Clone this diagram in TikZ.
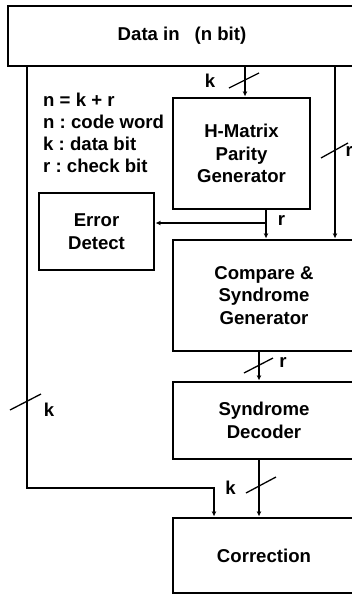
\documentclass[tikz,border=0pt]{standalone}
\usepackage{fontspec}
\setmainfont{Liberation Sans}
\usetikzlibrary{arrows.meta}
\frenchspacing
\begin{document}
\begin{tikzpicture}[x=1pt,y=-1pt,
  txt/.style={font=\bfseries\fontsize{18.6}{22.5}\selectfont},
  box/.style={draw,line width=2.2pt,align=center,txt,inner sep=0pt},
  conn/.style={line width=1.3pt},
  arr/.style={conn,-{Stealth[length=5pt,width=4.5pt]},shorten >=0.8pt},
  lbl/.style={txt,inner sep=0pt},
  bus/.style={line width=1.3pt}]
\useasboundingbox (0,0) rectangle (352,595);
\clip (0,0) rectangle (352,595);
% boxes
\node[box,minimum width=348pt,minimum height=60pt] (din) at (182,36) {Data in\hspace{0.8em}(n bit)};
\node[box,minimum width=137pt,minimum height=111pt] (hm) at (241.5,153.5) {H-Matrix\\Parity\\Generator};
\node[box,minimum width=115pt,minimum height=77pt] (ed) at (96.5,231.5) {Error\\Detect};
\node[box,minimum width=182pt,minimum height=111pt] (comp) at (264,295.5) {Compare \&\\Syndrome\\Generator};
\node[box,minimum width=182pt,minimum height=77pt] (sd) at (264,420.5) {Syndrome\\Decoder};
\node[box,minimum width=182pt,minimum height=75pt] (corr) at (264,555.5) {Correction};
% legend
\node[lbl,anchor=base west] (l1) at (43,106) {n = k + r};
\node[lbl,anchor=base west] (l2) at (43,128) {n : code word};
\node[lbl,anchor=base west] (l3) at (43,150) {k : data bit};
\node[lbl,anchor=base west] (l4) at (43,172) {r : check bit};
% connectors
\coordinate (lb) at (27,488);
\coordinate (cb) at (214,488);
\draw[arr] (din.south -| lb) -- (lb) -- (cb) -- (cb |- corr.north);
\coordinate (kx) at (245,0);
\draw[arr] (din.south -| kx) -- (kx |- hm.north);
\coordinate (rx) at (335,0);
\draw[arr] (din.south -| rx) -- (rx |- comp.north);
\coordinate (px) at (266,223);
\draw[arr] (hm.south -| px) -- (px |- comp.north);
\draw[arr] (px) -- (ed.east |- px);
\coordinate (sx) at (259,0);
\draw[arr] (comp.south -| sx) -- (sx |- sd.north);
\draw[arr] (sd.south -| sx) -- (sx |- corr.north);
% bus slashes
\draw[bus] (229,88) -- (259,73);
\draw[bus] (321,158) -- (348,143);
\draw[bus] (244,373) -- (273,358);
\draw[bus] (246,493) -- (276,477);
\draw[bus] (10,410) -- (41,394);
% bus labels
\node[lbl] (k1) at (210,80.5) {k};
\node[lbl,anchor=west] (r1) at (345.5,151) {r};
\node[lbl] (r2) at (281.5,220) {r};
\node[lbl] (r3) at (283,362.5) {r};
\node[lbl] (k2) at (230.5,487.5) {k};
\node[lbl] (k3) at (49,409.5) {k};
\end{tikzpicture}
\end{document}
